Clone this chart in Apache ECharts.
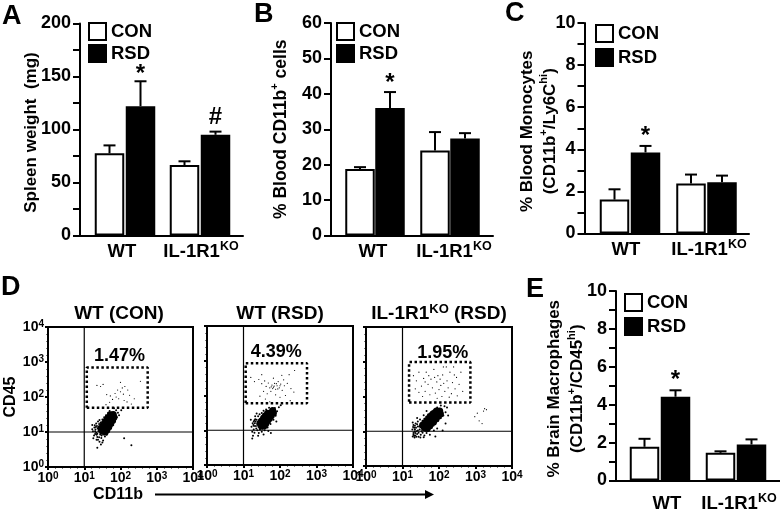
<!DOCTYPE html>
<html><head><meta charset="utf-8">
<style>html,body{margin:0;padding:0;background:#fff}#c{width:780px;height:513px}</style>
<script src="https://cdn.jsdelivr.net/npm/echarts@6/dist/echarts.min.js"></script>
</head><body><div id="c"></div>
<script>
// ---- bar chart values (mean, top of error bar) ----
const groupNames = ['WT', 'IL-1R1{s|KO}'];
const spleenCon = [77.5, 66.5], spleenConErr = [85, 70];
const spleenRsd = [122, 95], spleenRsdErr = [145.5, 98];
const cd11bCon = [18.8, 24], cd11bConErr = [19.3, 29.2];
const cd11bRsd = [36, 27.4], cd11bRsdErr = [40.5, 28.9];
const monoCon = [1.61, 2.37], monoConErr = [2.1, 2.8];
const monoRsd = [3.85, 2.44], monoRsdErr = [4.16, 2.75];
const macroCon = [1.78, 1.46], macroConErr = [2.2, 1.54];
const macroRsd = [4.42, 1.9], macroRsdErr = [4.76, 2.17];
// significance marks: [group index, bar (0 CON, 1 RSD), height, mark]
const spleenMarks = [[0, 1, 152, '*'], [1, 1, 111, '#']];
const cd11bMarks = [[0, 1, 43, '*']];
const monoMarks = [[0, 1, 4.6, '*']];
const macroMarks = [[0, 1, 5.3, '*']];
// ---- flow cytometry, decades of log10 fluorescence [CD11b, CD45] ----
const decades = [0, 1, 2, 3, 4];
const wtConGate = [[1.07, 1.69], [2.75, 1.69], [2.75, 2.84], [1.07, 2.84], [1.07, 1.69]];
const wtRsdGate = [[1.06, 1.78], [2.74, 1.78], [2.74, 2.93], [1.06, 2.93], [1.06, 1.78]];
const koRsdGate = [[1.18, 1.83], [2.86, 1.83], [2.86, 2.99], [1.18, 2.99], [1.18, 1.83]];
const wtConPct = [[1.97, 3.17, '1.47%']], wtRsdPct = [[1.9, 3.26, '4.39%']], koRsdPct = [[2.1, 3.26, '1.95%']];
const wtConCore = [[1.5,1.02],[1.55,1.1],[1.6,1.18],[1.65,1.26],[1.7,1.34],[1.75,1.42],[1.8,1.5],[1.46,1.1],[1.51,1.18],[1.56,1.26],[1.61,1.33],[1.66,1.41],[1.72,1.49],[1.58,1.0],[1.63,1.08],[1.68,1.16],[1.73,1.24],[1.78,1.33],[1.82,1.42]];
const wtConHalo = [[1.24,1.02],[1.28,1.13],[1.3,0.94],[1.22,1.2],[1.33,1.24],[1.36,0.86],[1.31,1.07],[1.27,0.9],[1.38,1.3],[1.42,1.34],[1.35,1.17],[1.38,0.78],[1.42,0.72],[1.47,0.83],[1.52,0.76],[1.57,0.87],[1.46,0.64],[1.33,0.98],[1.37,1.11],[1.29,1.19],[1.41,1.23],[1.45,1.27],[1.5,1.36],[1.55,1.42],[1.6,1.48],[1.66,1.55],[1.7,1.6],[1.62,0.92],[1.68,1.0],[1.74,1.1],[1.8,1.2],[1.85,1.3],[1.9,1.42],[1.93,1.55],[1.88,1.62],[1.82,1.68],[1.36,0.55],[1.44,0.93],[1.56,0.97],[1.7,1.08],[1.77,1.25],[1.84,1.38],[1.96,1.48],[2.02,1.62],[2.1,0.82],[2.3,0.62],[1.25,0.82],[1.22,1.08],[1.4,1.16],[1.34,0.92],[1.32,1.14],[1.39,1.02],[1.36,0.95],[1.43,1.04],[1.3,1.02],[1.48,0.9],[1.54,0.93],[1.41,0.85],[1.34,0.78],[1.5,0.7]];
const wtConGated = [[1.45,2.3],[1.52,2.36],[1.35,2.33],[1.62,2.07],[1.72,2.03],[1.78,1.93],[1.85,2.1],[1.92,2.2],[2.0,2.15],[2.05,2.26],[2.12,2.3],[2.2,2.2],[1.95,1.95],[2.1,1.9],[2.18,1.86],[2.3,1.8],[1.7,1.85],[2.25,2.05],[2.38,1.95],[2.55,2.45],[1.6,1.78],[2.0,2.42],[1.88,2.0],[2.08,2.08]];
const wtRsdCore = [[1.49,1.12],[1.54,1.2],[1.59,1.27],[1.64,1.35],[1.69,1.42],[1.74,1.5],[1.8,1.57],[1.45,1.2],[1.5,1.27],[1.55,1.35],[1.6,1.42],[1.66,1.49],[1.56,1.12],[1.61,1.19],[1.66,1.27],[1.71,1.34],[1.76,1.42],[1.82,1.5]];
const wtRsdHalo = [[1.22,1.1],[1.25,1.2],[1.28,1.02],[1.2,1.3],[1.32,1.32],[1.3,0.93],[1.26,0.84],[1.24,0.76],[1.38,1.0],[1.34,1.12],[1.31,1.2],[1.36,1.3],[1.4,1.4],[1.44,1.46],[1.5,1.5],[1.55,1.56],[1.62,1.6],[1.7,1.65],[1.42,0.92],[1.5,0.96],[1.58,1.0],[1.66,1.08],[1.74,1.18],[1.82,1.3],[1.88,1.42],[1.92,1.55],[1.97,1.66],[2.02,1.72],[1.86,1.64],[1.78,1.62],[1.55,0.88],[1.4,0.84],[1.75,0.92],[1.32,1.4],[1.36,1.48],[1.28,1.25],[1.45,1.02],[1.9,1.25],[1.68,0.98],[1.24,0.96],[1.29,1.12],[1.35,1.05],[1.33,1.25],[1.38,1.18],[1.41,1.1],[1.27,1.15],[1.3,1.29],[1.43,1.3],[1.47,1.04],[1.52,1.04]];
const wtRsdGated = [[1.2,2.52],[1.3,2.4],[1.42,2.46],[1.5,2.34],[1.58,2.42],[1.62,2.26],[1.68,2.36],[1.72,2.22],[1.78,2.3],[1.82,2.24],[1.85,2.35],[1.88,2.18],[1.92,2.28],[1.95,2.4],[1.98,2.22],[2.02,2.33],[2.06,2.15],[2.1,2.45],[2.12,2.28],[1.75,2.12],[1.65,2.05],[1.55,2.12],[1.45,1.98],[1.88,2.02],[2.0,1.95],[2.15,2.0],[2.2,2.35],[2.25,2.6],[2.3,2.2],[2.38,2.1],[2.4,2.72],[1.8,2.2],[1.84,2.27],[1.76,2.25],[1.9,2.34],[1.94,2.19],[2.0,2.28],[1.6,1.9],[2.28,1.85],[1.72,1.82],[1.5,2.6],[1.82,2.5],[2.05,2.58]];
const koRsdCore = [[1.6,1.1],[1.66,1.17],[1.72,1.24],[1.78,1.31],[1.84,1.38],[1.9,1.45],[1.96,1.52],[2.02,1.58],[1.55,1.17],[1.61,1.24],[1.67,1.31],[1.73,1.38],[1.79,1.45],[1.85,1.51],[1.93,1.58],[1.68,1.08],[1.74,1.15],[1.8,1.22],[1.86,1.29],[1.92,1.36],[1.98,1.43],[2.04,1.5]];
const koRsdHalo = [[1.28,0.85],[1.3,0.95],[1.27,1.05],[1.32,1.1],[1.35,0.88],[1.38,1.0],[1.3,1.18],[1.36,1.22],[1.42,1.28],[1.4,0.92],[1.44,0.84],[1.5,0.9],[1.47,1.05],[1.42,1.14],[1.5,1.22],[1.55,1.3],[1.6,1.36],[1.65,1.42],[1.7,1.48],[1.78,1.55],[1.85,1.6],[1.55,0.96],[1.6,0.88],[1.66,0.95],[1.72,1.02],[1.8,1.1],[1.9,1.2],[1.98,1.3],[2.05,1.38],[2.12,1.45],[2.18,1.55],[2.22,1.68],[2.15,1.72],[2.05,1.74],[1.95,1.68],[1.33,0.82],[1.38,0.84],[1.3,0.9],[1.35,0.95],[1.42,1.02],[1.34,1.05],[1.75,0.9],[1.86,1.02],[1.95,1.08],[2.1,1.02],[2.18,1.22],[2.25,1.45],[1.48,1.34],[1.4,1.38],[1.58,1.46],[1.66,1.58],[1.28,1.25],[1.9,0.85],[1.62,1.02],[1.44,0.96],[1.37,1.1],[1.46,1.14],[1.52,1.0],[1.33,0.99],[1.4,1.2],[1.29,1.12],[1.56,1.08],[1.34,1.16],[1.49,0.82],[1.58,0.83],[1.32,0.87]];
const koRsdGated = [[1.3,2.6],[1.38,2.45],[1.45,2.7],[1.52,2.3],[1.58,2.52],[1.62,2.15],[1.65,2.7],[1.7,2.35],[1.75,2.05],[1.78,2.5],[1.82,2.25],[1.86,2.78],[1.9,2.1],[1.94,2.42],[1.97,2.6],[2.0,2.2],[2.03,2.5],[2.05,2.32],[2.08,2.0],[2.1,2.62],[2.13,2.38],[2.16,2.15],[2.2,2.85],[2.22,2.45],[2.25,2.25],[2.28,1.98],[2.3,2.7],[2.34,2.08],[2.37,2.4],[2.4,2.85],[2.44,2.22],[2.48,2.55],[2.5,2.02],[2.55,2.35],[2.6,2.7],[2.65,2.15],[1.45,2.12],[1.55,2.0],[1.72,2.6],[1.88,2.55],[2.12,2.85],[1.35,2.22],[1.95,1.95],[2.42,2.62],[1.62,2.42]];
const koRsdFar = [[2.98,1.42],[3.1,1.3],[3.18,1.22],[3.22,1.58],[3.25,1.65],[3.05,1.52],[3.3,1.62]];

const S = (fs, ss, lh) => ({
  m: {fontSize: fs, fontWeight: 'bold', fontFamily: 'Liberation Sans', color: '#000', lineHeight: lh},
  s: {fontSize: ss, fontWeight: 'bold', fontFamily: 'Liberation Sans', color: '#000', verticalAlign: 'top', lineHeight: lh}
});
const wrap = t => '{m|' + t.replace(/\{s\|([^}]*)\}/g, '}{s|$1}{m|') + '}';

const opt = {animation: false, backgroundColor: '#fff', grid: [], xAxis: [], yAxis: [], series: [], legend: [], title: [],
  graphic: {elements: [
    {type: 'line', silent: true, shape: {x1: 155, y1: 494.5, x2: 426, y2: 494.5}, style: {stroke: '#000', lineWidth: 2}},
    {type: 'polygon', silent: true, shape: {points: [[425, 490], [434, 494.5], [425, 499]]}, style: {fill: '#000'}}
  ]}
};

function letter(t, left, top) {
  opt.title.push({text: t, left, top, padding: 0, textStyle: {fontSize: 27, fontWeight: 'bold', fontFamily: 'Liberation Sans', color: '#000'}});
}

function barPanel(c) {
  const g = opt.grid.length;
  const spacing = c.centers[1] - c.centers[0];
  const toX = px => 1 + (px - c.centers[0]) / spacing;
  opt.grid.push({left: c.left, right: 780 - c.right, top: c.top, height: c.bottom - c.top});
  opt.xAxis.push({gridIndex: g, type: 'value', min: toX(c.left), max: toX(c.right),
    splitLine: {show: false}, axisTick: {show: false},
    axisLine: {lineStyle: {color: '#000', width: 2}},
    axisLabel: {customValues: c.labels.map(toX), margin: c.labelMargin, color: '#000',
      formatter: v => wrap(groupNames[Math.abs(v - toX(c.labels[0])) < 0.01 ? 0 : 1]), rich: S(18.5, 12.5, 22)}});
  opt.yAxis.push({gridIndex: g, type: 'value', min: 0, max: c.max, interval: c.tick,
    splitLine: {show: false}, axisLine: {show: true, lineStyle: {color: '#000', width: 2}},
    axisTick: {length: 7, lineStyle: {color: '#000', width: 2}},
    axisLabel: {margin: 9, color: '#000', fontSize: 18, fontWeight: 'bold', fontFamily: 'Liberation Sans',
      formatter: v => (Math.round(v / c.tick) % c.every === 0 ? String(v) : '')},
    name: c.name, nameLocation: 'middle', nameGap: c.nameGap, nameRotate: 90, nameMoveOverlap: false,
    nameTextStyle: {rich: S(c.nameSize, 11, c.nameSize + 6), padding: c.namePad}});
  const off = c.off / spacing;
  const xy = (vals, d) => vals.map((v, i) => [i + 1 + d, v]);
  const barStyle = f => ({color: f, borderColor: '#000', borderWidth: 2, borderType: 'solid'});
  opt.series.push(
    {name: 'CON', type: 'bar', xAxisIndex: g, yAxisIndex: g, barWidth: 29.5, barGap: '-100%', itemStyle: barStyle('#fff'), data: xy(c.con, -off), z: 2},
    {name: 'RSD', type: 'bar', xAxisIndex: g, yAxisIndex: g, barWidth: 29.5, barGap: '-100%', itemStyle: barStyle('#000'), data: xy(c.rsd, off), z: 2},
    {type: 'custom', xAxisIndex: g, yAxisIndex: g, z: 1, silent: true,
      data: [...c.con.map((v, i) => [i + 1 - off, v, c.conErr[i]]), ...c.rsd.map((v, i) => [i + 1 + off, v, c.rsdErr[i]])],
      renderItem: (p, api) => {
        const a = api.coord([api.value(0), api.value(1)]), b = api.coord([api.value(0), api.value(2)]);
        const st = {stroke: '#000', lineWidth: 2, fill: 'none'};
        return {type: 'group', children: [
          {type: 'line', shape: {x1: a[0], y1: a[1], x2: b[0], y2: b[1]}, style: st},
          {type: 'line', shape: {x1: b[0] - 6, y1: b[1], x2: b[0] + 6, y2: b[1]}, style: st}
        ]};
      }},
    {type: 'scatter', xAxisIndex: g, yAxisIndex: g, symbolSize: 1, itemStyle: {color: 'transparent', opacity: 1}, silent: true,
      data: c.marks.map(m => [m[0] + 1 + (m[1] ? off : -off), m[2], m[3]]),
      label: {show: true, position: 'inside', formatter: p => p.data[2], color: '#000', fontSize: 24, fontWeight: 'bold', fontFamily: 'Liberation Sans'}}
  );
  const sw = n => ({name: n, icon: 'rect', itemStyle: barStyle(n === 'CON' ? '#fff' : '#000')});
  opt.legend.push({data: [sw('CON'), sw('RSD')], orient: 'vertical', left: c.legend[0], top: c.legend[1], padding: 0,
    itemWidth: 17, itemHeight: 17, itemGap: c.legendGap, selectedMode: false,
    textStyle: {fontSize: 18.5, fontWeight: 'bold', fontFamily: 'Liberation Sans', color: '#000'}});
}

barPanel({left: 80, right: 243, top: 23.5, bottom: 235.5, centers: [125, 200], off: 15.5, labels: [122, 201], labelMargin: 5,
  max: 200, tick: 25, every: 2, con: spleenCon, conErr: spleenConErr, rsd: spleenRsd, rsdErr: spleenRsdErr, marks: spleenMarks,
  legend: [88, 22], legendGap: 3, name: '{m|Spleen weight  (mg)}', nameGap: 37, nameSize: 17, namePad: [0, 6, 0, 0]});
barPanel({left: 331, right: 493, top: 23, bottom: 235.5, centers: [375, 450], off: 15, labels: [373, 454], labelMargin: 5,
  max: 60, tick: 10, every: 1, con: cd11bCon, conErr: cd11bConErr, rsd: cd11bRsd, rsdErr: cd11bRsdErr, marks: cd11bMarks,
  legend: [336, 22], legendGap: 3, name: '{m|% Blood CD11b}{s|+}{m| cells}', nameGap: 38, nameSize: 17.5, namePad: 0});
barPanel({left: 584.5, right: 749, top: 23, bottom: 233.5, centers: [630, 706.5], off: 15.5, labels: [626, 709], labelMargin: 5,
  max: 10, tick: 1, every: 2, con: monoCon, conErr: monoConErr, rsd: monoRsd, rsdErr: monoRsdErr, marks: monoMarks,
  legend: [595, 24], legendGap: 5, name: '{m|% Blood Monocytes}\n{m|(CD11b}{s|+}{m|/Ly6C}{s|hi}{m|)}', nameGap: 23, nameSize: 17, namePad: [0, 6, 0, 0]});
barPanel({left: 616, right: 780, top: 291, bottom: 488, centers: [660, 736], off: 15.5, labels: [667, 739], labelMargin: 12,
  max: 10, tick: 1, every: 2, con: macroCon, conErr: macroConErr, rsd: macroRsd, rsdErr: macroRsdErr, marks: macroMarks,
  legend: [624, 293], legendGap: 5, name: '{m|% Brain Macrophages}\n{m|(CD11b}{s|+}{m|/CD45}{s|hi}{m|)}', nameGap: 27, nameSize: 17, namePad: [0, 6, 0, 0]});

function flowPanel(c) {
  const g = opt.grid.length;
  opt.grid.push({show: true, left: c.left, top: c.top, width: c.right - c.left, height: c.bottom - c.top, borderColor: '#000', borderWidth: 2, backgroundColor: '#fff'});
  const lab = show => ({show, margin: 4, color: '#000', formatter: v => '{m|10}{s|' + v + '}', rich: S(14, 10, 15)});
  const common = {type: 'value', min: 0, max: 4, interval: 1, splitLine: {show: false},
    axisLine: {show: true, lineStyle: {color: '#000', width: 2}},
    axisTick: {length: 3, lineStyle: {color: '#000', width: 2}},
    minorTick: {show: true, splitNumber: 5, length: 1.5, lineStyle: {color: '#000', width: 1}}};
  opt.xAxis.push({...common, gridIndex: g, axisLabel: lab(true)});
  opt.yAxis.push({...common, gridIndex: g, axisLabel: lab(c.yLabels)});
  const ref = {type: 'line', xAxisIndex: g, yAxisIndex: g, symbol: 'none', silent: true};
  const dots = (d, s) => ({type: 'scatter', xAxisIndex: g, yAxisIndex: g, symbolSize: s, itemStyle: {color: '#000', opacity: 1}, silent: true, data: d});
  opt.series.push(
    {...ref, data: [[decades[1], decades[0]], [decades[1], decades[4]]], lineStyle: {color: '#000', width: 1.2}},
    {...ref, data: [[decades[0], decades[1]], [decades[4], decades[1]]], lineStyle: {color: '#000', width: 1.2}},
    {...ref, data: c.gate, lineStyle: {color: '#000', width: 2.5, type: [2.5, 2.5]}},
    dots(c.core, 7), dots(c.halo, 2), dots(c.gated, 1.2),
    {type: 'scatter', xAxisIndex: g, yAxisIndex: g, symbolSize: 1, itemStyle: {color: 'transparent', opacity: 1}, silent: true, data: c.pct,
      label: {show: true, position: 'inside', formatter: p => p.data[2], color: '#000', fontSize: 18, fontWeight: 'bold', fontFamily: 'Liberation Sans'}}
  );
  opt.title.push({text: c.title, left: c.titleX, top: 303, textAlign: 'center', padding: 0,
    textStyle: {rich: S(19, 13, 22)}});
}
flowPanel({left: 48, right: 193, top: 327, bottom: 467, yLabels: true, gate: wtConGate, core: wtConCore, halo: wtConHalo, gated: wtConGated, pct: wtConPct, title: '{m|WT (CON)}', titleX: 119});
flowPanel({left: 207, right: 353, top: 326, bottom: 465, yLabels: false, gate: wtRsdGate, core: wtRsdCore, halo: wtRsdHalo, gated: wtRsdGated, pct: wtRsdPct, title: '{m|WT (RSD)}', titleX: 280});
flowPanel({left: 366, right: 512, top: 327, bottom: 466, yLabels: false, gate: koRsdGate, core: koRsdCore, halo: koRsdHalo, gated: koRsdGated.concat(koRsdFar), pct: koRsdPct, title: '{m|IL-1R1}{s|KO}{m| (RSD)}', titleX: 439});

letter('A', 2, 3); letter('B', 254, 1); letter('C', 505, 0); letter('D', 1, 274); letter('E', 526, 276);
const axisWord = {fontSize: 16, fontWeight: 'bold', fontFamily: 'Liberation Sans', color: '#000'};
opt.title.push({text: 'CD11b', left: 118, top: 487, textAlign: 'center', padding: 0, textStyle: axisWord});
opt.yAxis[4].name = 'CD45'; opt.yAxis[4].nameLocation = 'middle'; opt.yAxis[4].nameGap = 29; opt.yAxis[4].nameMoveOverlap = false;
opt.yAxis[4].nameTextStyle = axisWord;

echarts.init(document.getElementById('c'), null, {renderer: 'canvas'}).setOption(opt);
</script></body></html>
